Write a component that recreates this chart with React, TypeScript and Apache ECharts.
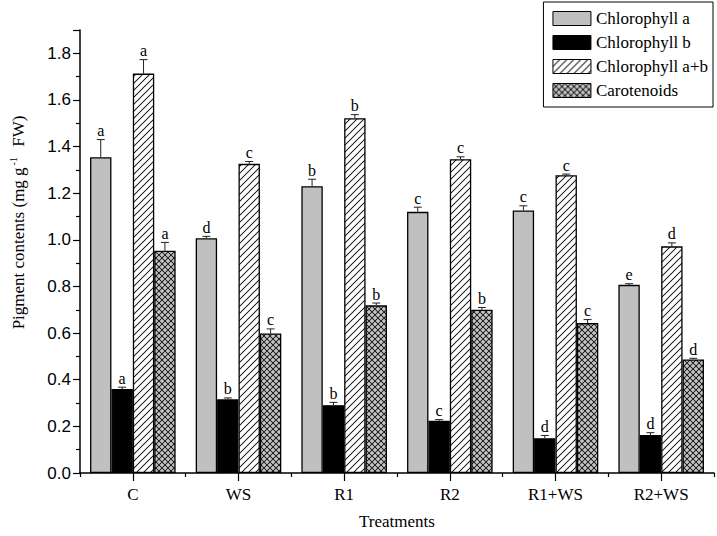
import React, { useEffect, useRef } from "react";
import * as echarts from "echarts";

const categories = ["C", "WS", "R1", "R2", "R1+WS", "R2+WS"];
const seriesNames = ["Chlorophyll a", "Chlorophyll b", "Chlorophyll a+b", "Carotenoids"];

const chlA = [1.354, 1.007, 1.23, 1.12, 1.126, 0.807];
const chlAErr = [0.076, 0.008, 0.03, 0.02, 0.02, 0.005];
const chlALetters = ["a", "d", "b", "c", "c", "e"];

const chlB = [0.36, 0.316, 0.291, 0.224, 0.149, 0.163];
const chlBErr = [0.008, 0.006, 0.012, 0.005, 0.012, 0.01];
const chlBLetters = ["a", "b", "b", "c", "d", "d"];

const chlAB = [1.713, 1.326, 1.522, 1.346, 1.277, 0.972];
const chlABErr = [0.06, 0.01, 0.015, 0.01, 0.005, 0.015];
const chlABLetters = ["a", "c", "b", "c", "c", "d"];

const carot = [0.953, 0.598, 0.719, 0.7, 0.643, 0.487];
const carotErr = [0.036, 0.02, 0.01, 0.01, 0.015, 0.005];
const carotLetters = ["a", "c", "b", "b", "c", "d"];

const yTicks = ["0.0", "0.2", "0.4", "0.6", "0.8", "1.0", "1.2", "1.4", "1.6", "1.8"];

const SERIF = "'Liberation Serif', 'Times New Roman', serif";
const SANS = "'Liberation Sans', Arial, sans-serif";

function makeHatch(): HTMLCanvasElement {
  const s = 4;
  const t = 7;
  const c = document.createElement("canvas");
  c.width = t * s;
  c.height = t * s;
  const g = c.getContext("2d")!;
  g.fillStyle = "#ffffff";
  g.fillRect(0, 0, c.width, c.height);
  g.strokeStyle = "#000";
  g.lineWidth = 0.9 * s;
  g.beginPath();
  g.moveTo(-t * s, 2 * t * s);
  g.lineTo(2 * t * s, -t * s);
  g.moveTo(-2 * t * s, 2 * t * s);
  g.lineTo(t * s, -t * s);
  g.moveTo(0, 2 * t * s);
  g.lineTo(3 * t * s, -t * s);
  g.stroke();
  return c;
}

function makeCross(): HTMLCanvasElement {
  const s = 4;
  const t = 6;
  const c = document.createElement("canvas");
  c.width = t * s;
  c.height = t * s;
  const g = c.getContext("2d")!;
  g.fillStyle = "#c4c4c4";
  g.fillRect(0, 0, c.width, c.height);
  g.strokeStyle = "#000";
  g.lineWidth = 0.8 * s;
  g.beginPath();
  for (const k of [-1, 0, 1]) {
    g.moveTo(k * t * s - t * s, t * s + t * s);
    g.lineTo(k * t * s + 2 * t * s, -t * s);
    g.moveTo(k * t * s - t * s, -t * s);
    g.lineTo(k * t * s + 2 * t * s, 2 * t * s);
  }
  g.stroke();
  return c;
}

const CAT_GAP = 0.19;

export default function App() {
  const ref = useRef<HTMLDivElement>(null);
  useEffect(() => {
    document.body.style.margin = "0";
    const chart = echarts.init(ref.current!, null, { renderer: "svg" });
    const hatch = { image: makeHatch(), repeat: "repeat", imageWidth: 7, imageHeight: 7 } as any;
    const cross = { image: makeCross(), repeat: "repeat", imageWidth: 6, imageHeight: 6 } as any;

    const values = [chlA, chlB, chlAB, carot];
    const errs = [chlAErr, chlBErr, chlABErr, carotErr];
    const letters = [chlALetters, chlBLetters, chlABLetters, carotLetters];
    const colors: any[] = ["#c0c0c0", "#000000", hatch, cross];

    const bars = values.map((v, k) => ({
      name: seriesNames[k],
      type: "bar",
      xAxisIndex: 0,
      data: v,
      barGap: "0%",
      barCategoryGap: CAT_GAP * 100 + "%",
      itemStyle: { color: colors[k], borderColor: "#000", borderWidth: 1.3 },
      z: 2,
    }));

    const errSeries = values.map((v, k) => ({
      name: "err" + k,
      type: "custom",
      xAxisIndex: 0,
      z: 5,
      silent: true,
      data: v.map((val, i) => [i, val, errs[k][i]]),
      encode: { x: 0, y: 1 },
      renderItem: (params: any, api: any) => {
        const i = api.value(0);
        const val = api.value(1);
        const e = api.value(2);
        const w = api.size([1, 0])[0];
        const bw = (w * (1 - CAT_GAP)) / 4;
        const off = (k - 1.5) * bw;
        const p = api.coord([i, val]);
        const pt = api.coord([i, val + e]);
        const x = p[0] + off;
        return {
          type: "group",
          children: [
            { type: "line", shape: { x1: x, y1: p[1], x2: x, y2: pt[1] }, style: { stroke: "#222", lineWidth: 1 } },
            { type: "line", shape: { x1: x - 4, y1: pt[1], x2: x + 4, y2: pt[1] }, style: { stroke: "#222", lineWidth: 1 } },
            {
              type: "text",
              x: x,
              y: pt[1] - 1,
              style: {
                text: letters[k][params.dataIndex],
                fill: "#000",
                font: "16px " + SERIF,
                align: "center",
                verticalAlign: "bottom",
              },
            },
          ],
        };
      },
    }));

    chart.setOption({
      animation: false,
      backgroundColor: "#ffffff",
      grid: { left: 76, right: 3, top: 30, bottom: 63, containLabel: false },
      legend: {
        data: seriesNames,
        orient: "vertical",
        right: 4,
        top: 2,
        padding: [8, 5, 8, 9],
        itemWidth: 38,
        itemHeight: 14,
        itemGap: 7,
        icon: "rect",
        borderColor: "#000",
        borderWidth: 1,
        backgroundColor: "#fff",
        itemStyle: { borderColor: "#000", borderWidth: 1 },
        textStyle: { fontFamily: SERIF, fontSize: 17, color: "#000" },
        selectedMode: false,
      },
      xAxis: [
        {
          type: "category",
          data: categories,
          position: "bottom",
          axisLine: { show: true, lineStyle: { color: "#000", width: 1.5 } },
          axisTick: { show: true, alignWithLabel: true, length: 8, lineStyle: { color: "#000", width: 1.2 } },
          axisLabel: { fontFamily: SERIF, fontSize: 17, color: "#000", margin: 13 },
          name: "Treatments",
          nameLocation: "middle",
          nameGap: 40,
          nameTextStyle: { fontFamily: SERIF, fontSize: 17, color: "#000" },
        },
        {
          type: "category",
          data: categories,
          position: "bottom",
          axisLine: { show: false },
          axisTick: { show: true, alignWithLabel: false, length: 4, lineStyle: { color: "#000", width: 1.2 } },
          axisLabel: { show: false },
        },
      ],
      yAxis: {
        type: "value",
        min: 0,
        max: 1.9,
        interval: 0.2,
        axisLine: { show: true, lineStyle: { color: "#000", width: 1.5 } },
        axisTick: { show: true, length: 7, lineStyle: { color: "#000", width: 1.2 } },
        minorTick: { show: true, splitNumber: 2, length: 4, lineStyle: { color: "#000", width: 1.2 } },
        splitLine: { show: false },
        axisLabel: {
          fontFamily: SANS,
          fontSize: 17,
          color: "#000",
          margin: 9,
          formatter: (v: number) => {
            const idx = Math.round(v / 0.2);
            return Math.abs(idx * 0.2 - v) < 1e-6 && idx < yTicks.length ? yTicks[idx] : "";
          },
        },
        name: "Pigment contents (mg g{sup|-1} FW)",
        nameLocation: "middle",
        nameGap: 52,
        nameTextStyle: {
          fontFamily: SERIF,
          fontSize: 17,
          color: "#000",
          padding: [0, 0, 0, 58],
          rich: {
            sup: { fontFamily: SERIF, fontSize: 10, color: "#000", padding: [0, 6, 10, 2] },
          },
        },
      },
      series: [...bars, ...errSeries],
    });
    return () => chart.dispose();
  }, []);
  return <div ref={ref} style={{ position: "absolute", left: 0, top: 0, width: 717, height: 536 }} />;
}
